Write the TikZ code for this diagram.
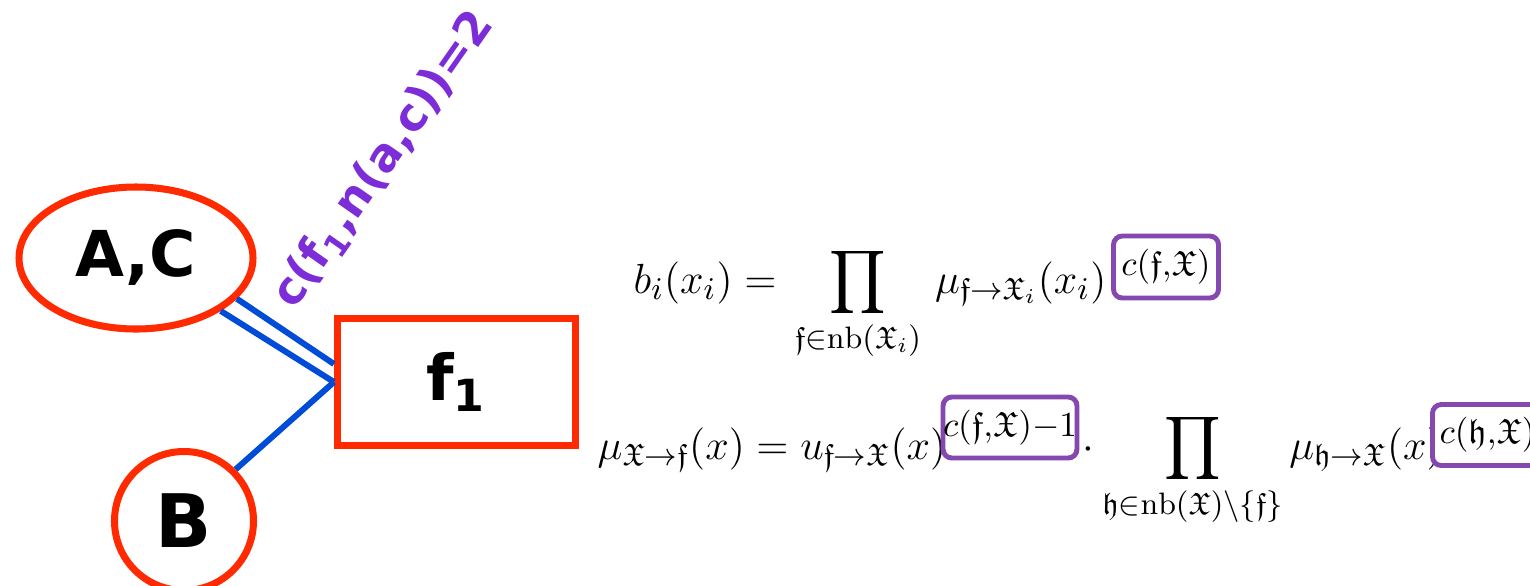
\documentclass[tikz,border=0pt]{standalone}
\usepackage{amsmath,amssymb}
\usepackage{fontspec}
\setsansfont{DejaVu Sans}
\definecolor{nodered}{RGB}{255,42,0}
\definecolor{edgeblue}{RGB}{0,76,214}
\definecolor{countpurple}{RGB}{125,45,215}
\definecolor{boxpurple}{RGB}{132,72,176}
\usetikzlibrary{shapes.geometric,calc}
\tikzset{
  var/.style={draw=nodered, line width=2pt, fill=white, inner sep=0pt,
              font=\sffamily\bfseries\fontsize{18}{20}\selectfont},
  factor/.style={draw=nodered, line width=2pt, fill=white, inner sep=0pt,
              minimum width=2.38cm, minimum height=1.27cm,
              font=\sffamily\bfseries\fontsize{18}{20}\selectfont},
  link/.style={edgeblue, line width=1.7pt},
  eqn/.style={inner sep=0pt, font=\fontsize{12.6}{14}\selectfont},
  expbox/.style={draw=boxpurple, line width=1.4pt, rounded corners=2.5pt,
              fill=white, inner sep=0pt, font=\fontsize{10}{12}\selectfont},
}

\begin{document}
\begin{tikzpicture}
        \useasboundingbox (0,0) rectangle (15.3,5.85);
        \node[var, ellipse, minimum width=2.34cm, minimum height=1.42cm] (ac) at (1.36,3.27) {A,C};
        \node[var, circle, minimum size=1.39cm, font=\sffamily\bfseries\fontsize{21}{23}\selectfont] (b) at (1.84,0.64) {B};
        \node[factor] (f1) at (4.565,2.03) {f\textsubscript{1}};
        \draw[link] (ac.-22) -- ($(f1.west)+(0,0.18)$);
        \draw[link] (ac.-32) -- (f1.west);
        \draw[link] (b.45) -- (f1.west);
        \node[rotate=55, text=countpurple, font=\sffamily\bfseries\fontsize{13}{15}\selectfont] (cnt) at (3.84,4.25) {c(f\textsubscript{1},n(a,c))=2};
        % belief
        \node[eqn, anchor=base west] (eq1) at (6.33,2.92)
          {$\displaystyle b_i(x_i) =\, \prod_{\mathfrak{f}\in\mathrm{nb}(\mathfrak{X}_i)} \,\mu_{\mathfrak{f}\rightarrow\mathfrak{X}_i}(x_i)$};
        \node[expbox, minimum width=1.05cm, minimum height=0.62cm] (ex1) at (11.66,3.18) {$c(\mathfrak{f}{,}\mathfrak{X})$};
        % message
        \node[eqn, anchor=base west] (eq2a) at (5.97,1.26)
          {$\mu_{\mathfrak{X}\rightarrow\mathfrak{f}}(x) = u_{\mathfrak{f}\rightarrow\mathfrak{X}}(x)$};
        \node[expbox, minimum width=1.30cm, minimum height=0.61cm] (ex2) at (10.10,1.575) {$c(\mathfrak{f}{,}\mathfrak{X}){-}1$};
        \node[eqn, anchor=base west] (dot) at (10.82,1.26) {$\cdot$};
        \node[eqn, anchor=base west] (eq2b) at (11.02,1.26)
          {$\displaystyle \prod_{\mathfrak{h}\in\mathrm{nb}(\mathfrak{X})\setminus\{\mathfrak{f}\}} \mu_{\mathfrak{h}\rightarrow\mathfrak{X}}(x)$};
        \node[expbox, minimum width=1.10cm, minimum height=0.61cm] (ex3) at (14.875,1.50) {$c(\mathfrak{h}{,}\mathfrak{X})$};
\end{tikzpicture}
\end{document}
